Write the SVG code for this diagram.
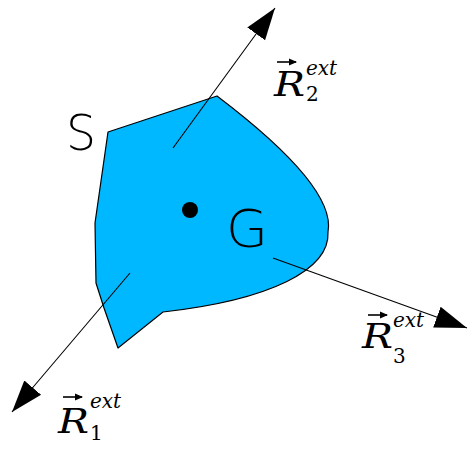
<svg xmlns="http://www.w3.org/2000/svg" width="468" height="450" viewBox="0 0 468 450">
<style>
.body{fill:#00b8ff;stroke:#000;stroke-width:1.2;stroke-linejoin:round}
.conn{stroke:#000;stroke-width:1.1;fill:none}
.lbl{font-family:"DejaVu Serif","Liberation Serif",serif;font-style:italic;fill:#000}
.sub{font-family:"DejaVu Serif","Liberation Serif",serif;font-style:normal;fill:#000;font-size:20px}
.big{font-family:"DejaVu Sans","Liberation Sans",sans-serif;font-weight:200;fill:#000}
.vec{stroke:#000;stroke-width:1.6;fill:none}
</style>
<defs>
<marker id="ah" markerUnits="userSpaceOnUse" markerWidth="32" markerHeight="24" viewBox="0 -12 32 24" refX="32" refY="0" orient="auto">
<path d="M0,-11 L32,0 L0,11 Z" fill="#000"/>
</marker>
<marker id="va" markerUnits="userSpaceOnUse" markerWidth="8" markerHeight="8" viewBox="0 -4 8 8" refX="7" refY="0" orient="auto">
<path d="M0,-3.5 L8,0 L0,3.5 Z" fill="#000"/>
</marker>
</defs>
<g id="body">
<path class="body" d="M108,132 L217,96 C275,140 335,195 328,232 C330,270 270,300 163,312 L118,348 L104,308 L96,283 L95,223 Z"/>
<circle cx="190" cy="210" r="8" fill="#000"/>
</g>
<g id="connectors">
<line class="conn" x1="173" y1="148" x2="275" y2="8" marker-end="url(#ah)"/>
<line class="conn" x1="130" y1="273" x2="12" y2="412" marker-end="url(#ah)"/>
<line class="conn" x1="273" y1="258" x2="467" y2="328" marker-end="url(#ah)"/>
</g>
<g id="label-S"><text class="big" x="66" y="150" font-size="50" textLength="30" lengthAdjust="spacingAndGlyphs">S</text></g>
<g id="label-G"><text class="big" x="226" y="247" font-size="52" textLength="42" lengthAdjust="spacingAndGlyphs">G</text></g>
<g id="label-R2">
<line class="vec" x1="277" y1="62" x2="296" y2="62" marker-end="url(#va)"/>
<text class="lbl" x="274" y="96" font-size="34" textLength="31" lengthAdjust="spacingAndGlyphs">R</text>
<text class="lbl" x="306" y="75" font-size="20">ext</text>
<text class="sub" x="306" y="101">2</text>
</g>
<g id="label-R3">
<line class="vec" x1="368" y1="315" x2="387" y2="315" marker-end="url(#va)"/>
<text class="lbl" x="362" y="348" font-size="34" textLength="31" lengthAdjust="spacingAndGlyphs">R</text>
<text class="lbl" x="393" y="327" font-size="20">ext</text>
<text class="sub" x="393" y="363">3</text>
</g>
<g id="label-R1">
<line class="vec" x1="63" y1="397" x2="82" y2="397" marker-end="url(#va)"/>
<text class="lbl" x="58" y="433" font-size="34" textLength="31" lengthAdjust="spacingAndGlyphs">R</text>
<text class="lbl" x="90" y="408" font-size="20">ext</text>
<text class="sub" x="90" y="440">1</text>
</g>
</svg>
